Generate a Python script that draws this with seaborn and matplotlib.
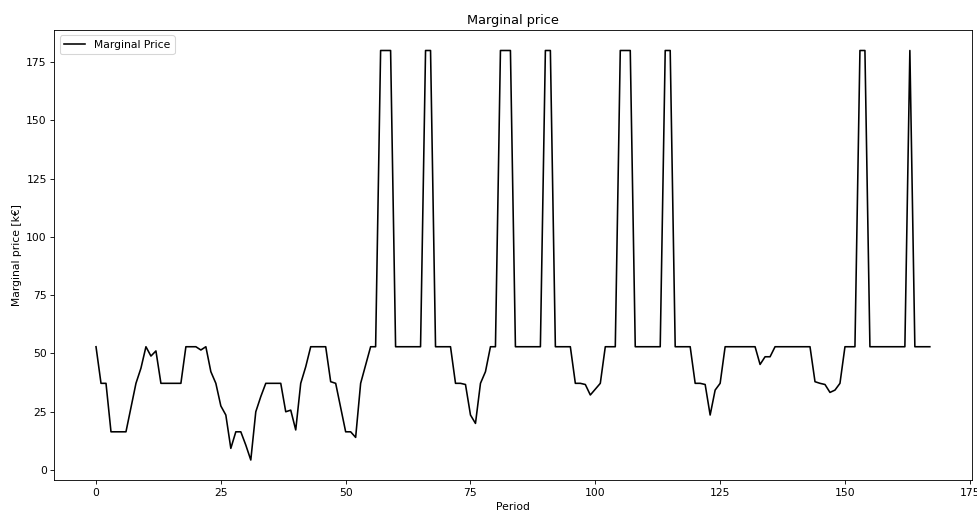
import matplotlib
matplotlib.use("Agg")
import matplotlib.pyplot as plt
import seaborn as sns
import pandas as pd

# Hourly marginal price over one week (168 periods), in k€
period = list(range(168))
price = [
    52.9, 37.2, 37.2, 16.4, 16.4, 16.4, 16.4, 26.8, 37.2, 43.7,   # 0-9
    52.9, 48.9, 51.1, 37.2, 37.2, 37.2, 37.2, 37.2, 52.9, 52.9,   # 10-19
    52.9, 51.5, 52.9, 42.2, 37.2, 27.5, 23.6, 9.3, 16.4, 16.4,    # 20-29
    10.7, 4.3, 25.0, 31.5, 37.2, 37.2, 37.2, 37.2, 25.0, 25.7,    # 30-39
    17.2, 37.2, 44.3, 52.9, 52.9, 52.9, 52.9, 37.9, 37.2, 26.9,   # 40-49
    16.4, 16.4, 14.0, 37.2, 45.0, 52.9, 52.9, 180.0, 180.0, 180.0,  # 50-59
    52.9, 52.9, 52.9, 52.9, 52.9, 52.9, 180.0, 180.0, 52.9, 52.9,   # 60-69
    52.9, 52.9, 37.2, 37.2, 36.7, 23.6, 20.0, 37.2, 42.2, 52.9,   # 70-79
    52.9, 180.0, 180.0, 180.0, 52.9, 52.9, 52.9, 52.9, 52.9, 52.9,  # 80-89
    180.0, 180.0, 52.9, 52.9, 52.9, 52.9, 37.2, 37.2, 36.7, 32.2,   # 90-99
    34.7, 37.2, 52.9, 52.9, 52.9, 180.0, 180.0, 180.0, 52.9, 52.9,  # 100-109
    52.9, 52.9, 52.9, 52.9, 180.0, 180.0, 52.9, 52.9, 52.9, 52.9,   # 110-119
    37.2, 37.2, 36.7, 23.6, 34.3, 37.2, 52.9, 52.9, 52.9, 52.9,   # 120-129
    52.9, 52.9, 52.9, 45.3, 48.6, 48.6, 52.9, 52.9, 52.9, 52.9,   # 130-139
    52.9, 52.9, 52.9, 52.9, 37.9, 37.2, 36.7, 33.3, 34.3, 37.2,   # 140-149
    52.9, 52.9, 52.9, 180.0, 180.0, 52.9, 52.9, 52.9, 52.9, 52.9,   # 150-159
    52.9, 52.9, 52.9, 180.0, 52.9, 52.9, 52.9, 52.9,              # 160-167
]

df = pd.DataFrame({"Period": period, "Marginal Price": price})

DPI = 77
fig, ax = plt.subplots(figsize=(977 / DPI, 514 / DPI), dpi=DPI)
fig.subplots_adjust(left=0.0556, right=0.9944, top=0.9416, bottom=0.0652)

sns.lineplot(data=df, x="Period", y="Marginal Price", color="black",
             linewidth=1.5, label="Marginal Price", ax=ax)

ax.set_title("Marginal price")
ax.set_xlabel("Period")
ax.set_ylabel("Marginal price [k€]")
ax.set_xticks([0, 25, 50, 75, 100, 125, 150, 175])
ax.set_yticks([0, 25, 50, 75, 100, 125, 150, 175])
ax.legend(loc="upper left")

fig.savefig("out.png", dpi=DPI)
